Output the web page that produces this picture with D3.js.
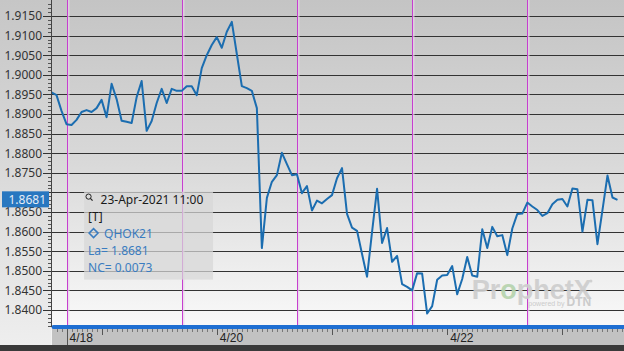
<!DOCTYPE html>
<html>
<head>
<meta charset="utf-8">
<script src="https://cdn.jsdelivr.net/npm/d3@7"></script>
<style>
  html, body { margin: 0; padding: 0; background: #fff; overflow: hidden; }
  svg { display: block; }
</style>
</head>
<body>
<div id="chart"></div>
<script>
// hourly closes, QHOK21, bar index -3 (Fri 14:00) .. 110 (23-Apr 11:00)
const firstBar = -3
const closes = [
  1.8955, 1.8948, 1.8908,
  1.8874, 1.8872, 1.8885, 1.8905, 1.8910, 1.8905, 1.8915, 1.8936, 1.8892, 1.8977, 1.8938, 1.8883,
  1.8880, 1.8877, 1.8943, 1.8984, 1.8857, 1.8882, 1.8928, 1.8964, 1.8928, 1.8964, 1.8959,
  1.8959, 1.8971, 1.8971, 1.8948, 1.9017, 1.9050, 1.9076, 1.9096, 1.9069, 1.9110, 1.9135, 1.9053,
  1.8971, 1.8966, 1.8959, 1.8915, 1.8558, 1.8686, 1.8727, 1.8744, 1.8801, 1.8772, 1.8744,
  1.8746, 1.8698, 1.8716, 1.8654, 1.8679, 1.8672, 1.8683, 1.8693, 1.8736, 1.8762, 1.8645, 1.8610,
  1.8602, 1.8543, 1.8485, 1.8599, 1.8709, 1.8571, 1.8609, 1.8523, 1.8538, 1.8466, 1.8459,
  1.8450, 1.8494, 1.8493, 1.8391, 1.8410, 1.8477, 1.8488, 1.8489, 1.8512, 1.8440, 1.8479, 1.8535,
  1.8488, 1.8485, 1.8606, 1.8558, 1.8612, 1.8588, 1.8591, 1.8540, 1.8608, 1.8645, 1.8646,
  1.8674, 1.8664, 1.8655, 1.8640, 1.8647, 1.8670, 1.8681, 1.8683, 1.8664, 1.8710, 1.8708, 1.8600,
  1.8681, 1.8680, 1.8568, 1.8655, 1.8743, 1.8687, 1.8681
]
// session starts (17:00) and day ticks, in bar index
const sessionStarts = [0, 23, 46, 69, 92]
const dayTicks = [0, 7, 30, 53, 76, 99]
const dayLabels = ['4/18', '', '4/20', '', '4/22', '']
const yTicks = d3.range(1.8400, 1.91501, 0.005)
const lastValue = 1.8681
const tipLines = ['23-Apr-2021 11:00', '[T]', 'QHOK21', 'La= 1.8681', 'NC= 0.0073']

let width = 624, height = 351
let margin = {top: 0, right: 0, bottom: 24, left: 52}
let innerWidth = width - margin.left - margin.right
let innerHeight = height - margin.top - margin.bottom   // 327

let data = closes.map((v, i) => ({i: i + firstBar, v: v}))

let svg = d3.select('#chart').append('svg')
  .attr('width', width).attr('height', height)

let defs = svg.append('defs')
let grad = defs.append('linearGradient').attr('id', 'bg')
  .attr('x1', 0).attr('y1', 0).attr('x2', 0).attr('y2', 1)
grad.append('stop').attr('offset', '0%').attr('stop-color', '#c4c4c4')
grad.append('stop').attr('offset', '50%').attr('stop-color', '#d9d9d9')
grad.append('stop').attr('offset', '100%').attr('stop-color', '#f9f9f9')
let gradL = defs.append('linearGradient').attr('id', 'bgl')
  .attr('x1', 0).attr('y1', 0).attr('x2', 0).attr('y2', 1)
gradL.append('stop').attr('offset', '0%').attr('stop-color', '#c6c6c6')
gradL.append('stop').attr('offset', '100%').attr('stop-color', '#eeeeee')
defs.append('clipPath').attr('id', 'clip').append('rect')
  .attr('width', innerWidth).attr('height', innerHeight)

let x = d3.scaleLinear().domain([-2.9, 111.3]).range([0, innerWidth])
let y = d3.scaleLinear().domain([1.83566, 1.91908]).range([innerHeight, 0])

// backgrounds
svg.append('rect').attr('x', 0).attr('y', 0).attr('width', margin.left).attr('height', height - 6)
  .attr('fill', 'url(#bgl)')
svg.append('rect').attr('x', margin.left).attr('y', 0).attr('width', innerWidth).attr('height', innerHeight)
  .attr('fill', 'url(#bg)')
svg.append('rect').attr('x', margin.left).attr('y', innerHeight).attr('width', innerWidth).attr('height', height - innerHeight - 6)
  .attr('fill', '#c2c2c2')
svg.append('rect').attr('x', 0).attr('y', height - 6).attr('width', width).attr('height', 6)
  .attr('fill', '#3a3a3a')
svg.append('line').attr('x1', margin.left - 0.5).attr('x2', margin.left - 0.5)
  .attr('y1', innerHeight).attr('y2', height - 6).attr('stroke', '#f4f4f4')

let g = svg.append('g').attr('transform', 'translate(' + margin.left + ',' + margin.top + ')')

// horizontal grid
g.selectAll('.grid').data(yTicks).enter().append('line')
  .attr('x1', 0).attr('x2', innerWidth)
  .attr('y1', d => Math.round(y(d)) + 0.5).attr('y2', d => Math.round(y(d)) + 0.5)
  .attr('stroke', '#333').attr('stroke-width', 1)

// session separators
g.selectAll('.sessglow').data(sessionStarts).enter().append('line')
  .attr('x1', d => Math.round(x(d)) + 1.5).attr('x2', d => Math.round(x(d)) + 1.5)
  .attr('y1', 0).attr('y2', innerHeight)
  .attr('stroke', '#e9d3ea').attr('stroke-width', 2).attr('opacity', 0.7)
g.selectAll('.sess').data(sessionStarts).enter().append('line')
  .attr('x1', d => Math.round(x(d)) + 0.5).attr('x2', d => Math.round(x(d)) + 0.5)
  .attr('y1', 0).attr('y2', innerHeight)
  .attr('stroke', '#c63fcf').attr('stroke-width', 1)

// watermark
let wm = g.append('text').attr('x', x(80.9)).attr('y', y(1.8428))
  .attr('font-family', 'Liberation Sans, Arial, sans-serif').attr('font-weight', 'bold')
  .attr('font-size', 27).attr('fill', '#cdcdcd').attr('opacity', 0.9)
wm.append('tspan').text('Pr')
wm.append('tspan').text('o').attr('fill', '#b5d3ad')
wm.append('tspan').text('phetX')
g.append('circle').attr('cx', x(104.7)).attr('cy', y(1.8474)).attr('r', 1.5).attr('fill', '#d0d0d0')
let pw = g.append('text').attr('x', x(92.2)).attr('y', y(1.8409))
  .attr('font-family', 'Liberation Sans, Arial, sans-serif').attr('fill', '#cbcbcb')
pw.append('tspan').attr('font-size', 7).text('powered by ')
pw.append('tspan').attr('font-size', 12).attr('font-weight', 'bold').text('DTN')

// tooltip box
let tipX = x(3.5), tipY = y(1.8702)
g.append('rect').attr('x', tipX).attr('y', tipY).attr('width', 129).attr('height', 88)
  .attr('fill', '#d7d7d7').attr('opacity', 0.72)

// price line
g.append('path').datum(data)
  .attr('clip-path', 'url(#clip)')
  .attr('fill', 'none').attr('stroke', '#1b6db0').attr('stroke-width', 2)
  .attr('stroke-linejoin', 'round')
  .attr('d', d3.line().x(d => x(d.i)).y(d => y(d.v)))

// tooltip text
let tf = 'Noto Sans, Open Sans, sans-serif'
g.append('circle').attr('cx', tipX + 4.5).attr('cy', tipY + 5).attr('r', 2.6)
  .attr('fill', 'none').attr('stroke', '#222').attr('stroke-width', 1)
g.append('line').attr('x1', tipX + 6.3).attr('y1', tipY + 6.8).attr('x2', tipX + 8.5).attr('y2', tipY + 9)
  .attr('stroke', '#222').attr('stroke-width', 1.2)
g.append('text').attr('x', tipX + 16.5).attr('y', tipY + 12.5).text(tipLines[0])
  .attr('font-family', tf).attr('font-size', 12).attr('fill', '#1a1a1a')
g.append('text').attr('x', tipX + 4).attr('y', tipY + 29).text(tipLines[1])
  .attr('font-family', tf).attr('font-size', 12).attr('fill', '#1a1a1a')
g.append('path').attr('transform', 'translate(' + (tipX + 9.5) + ',' + (tipY + 41.5) + ')')
  .attr('d', 'M0,-4.5L4.5,0L0,4.5L-4.5,0Z').attr('fill', 'none')
  .attr('stroke', '#3a7cc0').attr('stroke-width', 1.5)
g.append('text').attr('x', tipX + 20).attr('y', tipY + 46).text(tipLines[2])
  .attr('font-family', tf).attr('font-size', 12).attr('fill', '#3a7cc0')
g.append('text').attr('x', tipX + 4).attr('y', tipY + 63.5).text(tipLines[3])
  .attr('font-family', tf).attr('font-size', 12).attr('fill', '#3a7cc0')
g.append('text').attr('x', tipX + 4).attr('y', tipY + 80.5).text(tipLines[4])
  .attr('font-family', tf).attr('font-size', 12).attr('fill', '#3a7cc0')

// x axis: blue bar, hourly ticks, day ticks and labels
let xa = svg.append('g').attr('transform', 'translate(' + margin.left + ',' + innerHeight + ')')
xa.selectAll('.mt').data(d3.range(-2, 112)).enter().append('line')
  .attr('x1', d => Math.round(x(d)) + 0.5).attr('x2', d => Math.round(x(d)) + 0.5)
  .attr('y1', 2).attr('y2', 5).attr('stroke', '#777')
xa.selectAll('.dt').data(dayTicks).enter().append('line')
  .attr('x1', d => Math.round(x(d)) + 0.5).attr('x2', d => Math.round(x(d)) + 0.5)
  .attr('y1', 2).attr('y2', d => d === 0 ? 18 : 8).attr('stroke', '#555')
xa.selectAll('.dl').data(dayTicks).enter().append('text')
  .attr('x', d => x(d) + 3).attr('y', 15)
  .attr('font-family', 'Liberation Sans, Arial, sans-serif').attr('font-size', 12).attr('fill', '#222')
  .text((d, i) => dayLabels[i])
xa.append('line').attr('x1', 1.5).attr('x2', innerWidth).attr('y1', 0).attr('y2', 0)
  .attr('stroke', '#1f6fd2').attr('stroke-width', 4).attr('stroke-linecap', 'round')

// y axis
let ya = svg.append('g').attr('transform', 'translate(' + (margin.left - 1) + ',' + margin.top + ')')
ya.append('line').attr('x1', 0.5).attr('x2', 0.5).attr('y1', 0).attr('y2', innerHeight).attr('stroke', '#444')
ya.selectAll('.ym').data(d3.range(1.836, 1.9190, 0.001)).enter().append('line')
  .attr('x1', -3).attr('x2', 0).attr('y1', d => Math.round(y(d)) + 0.5).attr('y2', d => Math.round(y(d)) + 0.5)
  .attr('stroke', '#555')
ya.selectAll('.yt').data(yTicks).enter().append('line')
  .attr('x1', -8).attr('x2', 0).attr('y1', d => Math.round(y(d)) + 0.5).attr('y2', d => Math.round(y(d)) + 0.5)
  .attr('stroke', '#333')
ya.selectAll('.yl').data(yTicks.filter(d => Math.abs(d - 1.87) > 1e-6)).enter().append('text')
  .attr('x', -9).attr('y', d => y(d) + 4.5).attr('text-anchor', 'end')
  .attr('font-family', tf).attr('font-size', 12).attr('fill', '#333')
  .text(d => d3.format('.4f')(d))

// last value badge
svg.append('rect').attr('x', 2).attr('y', y(lastValue) - 8.5).attr('width', 47).attr('height', 16)
  .attr('fill', '#2877c0')
svg.append('text').attr('x', 46).attr('y', y(lastValue) + 4).attr('text-anchor', 'end')
  .attr('font-family', tf).attr('font-size', 12).attr('fill', '#e4ecf6')
  .text(d3.format('.4f')(lastValue))
</script>
</body>
</html>
